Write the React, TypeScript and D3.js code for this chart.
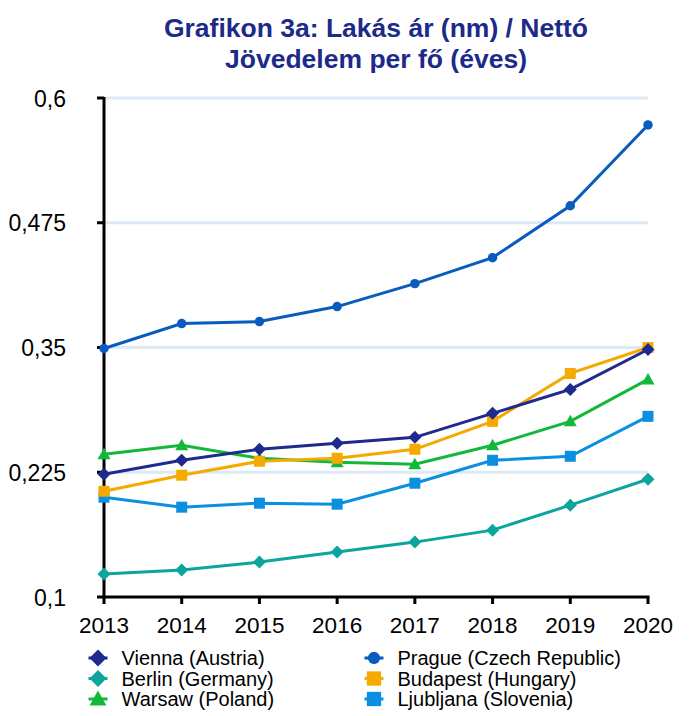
import React from "react";
import * as d3 from "d3";

const years = [2013, 2014, 2015, 2016, 2017, 2018, 2019, 2020];
const yTicks = [0.1, 0.225, 0.35, 0.475, 0.6];
const yTickLabels = ["0,1", "0,225", "0,35", "0,475", "0,6"];

const vienna = [0.223, 0.237, 0.248, 0.254, 0.26, 0.284, 0.308, 0.348];
const prague = [0.349, 0.374, 0.376, 0.391, 0.414, 0.44, 0.492, 0.573];
const berlin = [0.123, 0.127, 0.135, 0.145, 0.155, 0.167, 0.192, 0.218];
const budapest = [0.206, 0.222, 0.236, 0.239, 0.248, 0.276, 0.324, 0.35];
const warsaw = [0.243, 0.252, 0.239, 0.235, 0.233, 0.252, 0.276, 0.318];
const ljubljana = [0.2, 0.19, 0.194, 0.193, 0.214, 0.237, 0.241, 0.281];

const seriesNames = [
  "Vienna (Austria)",
  "Prague (Czech Republic)",
  "Berlin (Germany)",
  "Budapest (Hungary)",
  "Warsaw (Poland)",
  "Ljubljana (Slovenia)",
];

type S = { name: string; values: number[]; color: string; marker: string };
const series: S[] = [
  { name: seriesNames[2], values: berlin, color: "#0ca59d", marker: "diamond" },
  { name: seriesNames[5], values: ljubljana, color: "#0b8fe0", marker: "square" },
  { name: seriesNames[4], values: warsaw, color: "#12b83a", marker: "triangle" },
  { name: seriesNames[3], values: budapest, color: "#f5aa00", marker: "square" },
  { name: seriesNames[0], values: vienna, color: "#1e2a8c", marker: "diamond" },
  { name: seriesNames[1], values: prague, color: "#0a5bbf", marker: "circle" },
];

const markerPath = (m: string, k = 1) => {
  if (m === "diamond") return `M0,${-6.5 * k}L${6.5 * k},0L0,${6.5 * k}L${-6.5 * k},0Z`;
  if (m === "square") return `M${-5.5 * k},${-5.5 * k}H${5.5 * k}V${5.5 * k}H${-5.5 * k}Z`;
  if (m === "triangle") return `M0,${-6.5 * k}L${6.5 * k},${5 * k}L${-6.5 * k},${5 * k}Z`;
  return d3.symbol(d3.symbolCircle, 70 * k * k)() as string;
};

export default function App() {
  const W = 699, H = 716;
  const x = d3.scaleLinear().domain([2013, 2020]).range([104, 648]);
  const y = d3.scaleLinear().domain([0.1, 0.6]).range([597, 98]);
  const line = d3
    .line<number>()
    .x((_, i) => x(years[i]))
    .y((v) => y(v));
  const font = "'Liberation Sans', Arial, sans-serif";
  const legendOrder = [
    { s: series[4], col: 0, row: 0 },
    { s: series[0], col: 0, row: 1 },
    { s: series[2], col: 0, row: 2 },
    { s: series[5], col: 1, row: 0 },
    { s: series[3], col: 1, row: 1 },
    { s: series[1], col: 1, row: 2 },
  ];
  return (
    <svg width={W} height={H} style={{ position: "absolute", left: 0, top: 0 }} fontFamily={font}>
      <rect width={W} height={H} fill="#fff" />
      <text x={376} y={37} textAnchor="middle" fontSize={26.5} fontWeight="bold" fill="#1c2a8a">
        Grafikon 3a: Lakás ár (nm) / Nettó
      </text>
      <text x={376} y={68} textAnchor="middle" fontSize={26.5} fontWeight="bold" fill="#1c2a8a">
        Jövedelem per fő (éves)
      </text>
      {yTicks.slice(1).map((t) => (
        <line key={t} x1={104} x2={648} y1={y(t)} y2={y(t)} stroke="#dde9f6" strokeWidth={3} />
      ))}
      <line x1={104} x2={104} y1={y(0.6) - 1} y2={y(0.1) + 1.5} stroke="#000" strokeWidth={3} />
      <line x1={102.5} x2={649.5} y1={y(0.1)} y2={y(0.1)} stroke="#000" strokeWidth={3} />
      {yTicks.map((t, i) => (
        <g key={t}>
          <line x1={97} x2={104} y1={y(t)} y2={y(t)} stroke="#000" strokeWidth={3} />
          <text x={66} y={y(t) + 8.5} textAnchor="end" fontSize={23} fill="#000">
            {yTickLabels[i]}
          </text>
        </g>
      ))}
      {years.map((yr) => (
        <g key={yr}>
          <line x1={x(yr)} x2={x(yr)} y1={y(0.1)} y2={y(0.1) + 7} stroke="#000" strokeWidth={3} />
          <text x={x(yr)} y={633} textAnchor="middle" fontSize={22.5} fill="#000">
            {yr}
          </text>
        </g>
      ))}
      {series.map((s) => (
        <g key={s.name}>
          <path d={line(s.values) as string} fill="none" stroke={s.color} strokeWidth={3} />
          {s.values.map((v, i) => (
            <path key={i} d={markerPath(s.marker)} transform={`translate(${x(years[i])},${y(v)})`} fill={s.color} />
          ))}
        </g>
      ))}
      {legendOrder.map(({ s, col, row }) => {
        const lx = col === 0 ? 98 : 374;
        const ly = 658 + row * 20.5;
        return (
          <g key={s.name}>
            <line x1={lx - 9.5} x2={lx + 9.5} y1={ly} y2={ly} stroke={s.color} strokeWidth={3} />
            <path d={markerPath(s.marker, 1.3)} transform={`translate(${lx},${ly})`} fill={s.color} />
            <text x={lx + 23.5} y={ly + 7} fontSize={20} fill="#000">
              {s.name}
            </text>
          </g>
        );
      })}
    </svg>
  );
}
